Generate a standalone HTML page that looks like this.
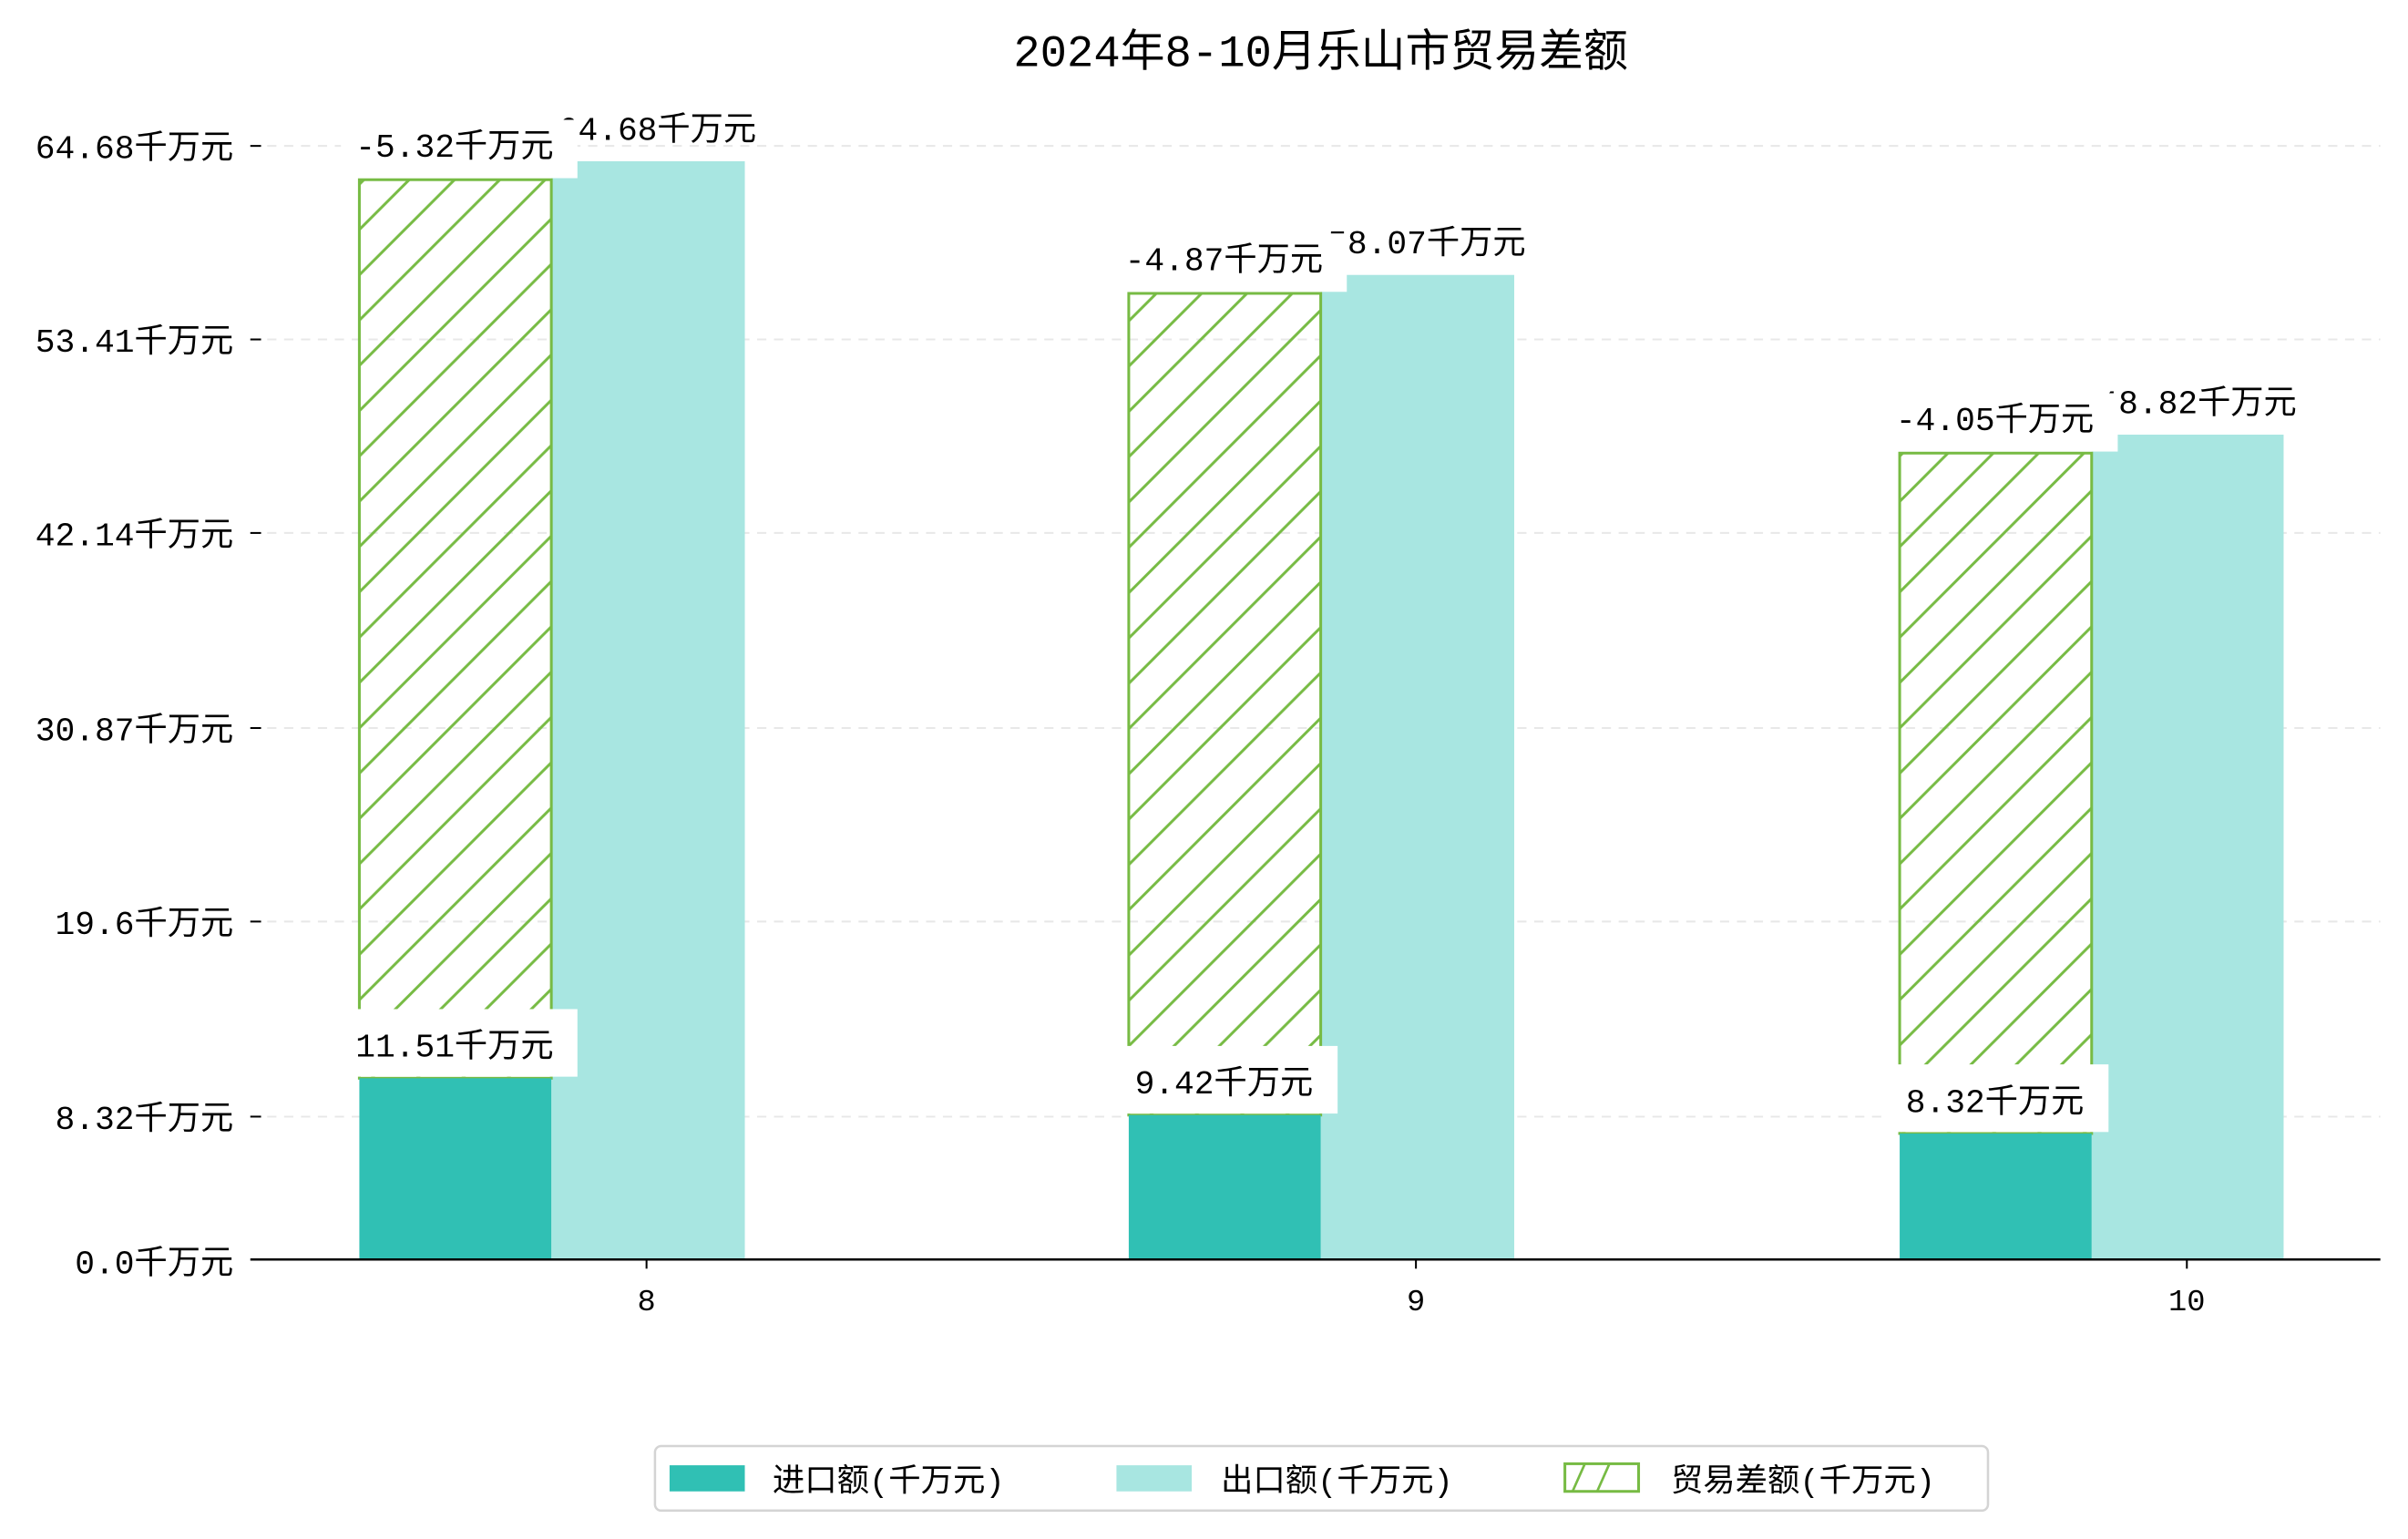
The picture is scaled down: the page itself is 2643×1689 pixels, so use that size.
<!DOCTYPE html>
<html><head><meta charset="utf-8"><style>
html,body{margin:0;padding:0;background:#fff;}
svg{display:block;}
text{font-family:"Liberation Mono","Noto Sans CJK SC",monospace;fill:#000;}
</style></head><body>
<svg width="2643" height="1689" viewBox="0 0 1568 1002" preserveAspectRatio="none" xmlns="http://www.w3.org/2000/svg">
<defs>
<pattern id="h" patternUnits="userSpaceOnUse" width="29.5" height="29.5">
<path d="M-2,2 L2,-2 M0,29.5 L29.5,0 M27.5,31.5 L31.5,27.5" stroke="#77bb44" stroke-width="1.8"/>
</pattern>
</defs>
<text x="860" y="43" font-size="29" text-anchor="middle">2024年8-10月乐山市贸易差额</text>
<g stroke="#e8e8e8" stroke-width="1.2" stroke-dasharray="6,5">
<line x1="163" y1="95" x2="1550" y2="95"/><line x1="163" y1="221" x2="1550" y2="221"/>
<line x1="163" y1="347" x2="1550" y2="347"/><line x1="163" y1="474" x2="1550" y2="474"/>
<line x1="163" y1="600" x2="1550" y2="600"/><line x1="163" y1="727" x2="1550" y2="727"/>
</g>
<g stroke="#000" stroke-width="1.2">
<line x1="163" y1="95" x2="170" y2="95"/><line x1="163" y1="221" x2="170" y2="221"/>
<line x1="163" y1="347" x2="170" y2="347"/><line x1="163" y1="474" x2="170" y2="474"/>
<line x1="163" y1="600" x2="170" y2="600"/><line x1="163" y1="727" x2="170" y2="727"/>
<line x1="421" y1="820" x2="421" y2="826"/><line x1="922" y1="820" x2="922" y2="826"/><line x1="1424" y1="820" x2="1424" y2="826"/>
</g>
<g font-size="21.5" text-anchor="end">
<text x="152" y="103">64.68千万元</text><text x="152" y="229">53.41千万元</text>
<text x="152" y="355">42.14千万元</text><text x="152" y="482">30.87千万元</text>
<text x="152" y="608">19.6千万元</text><text x="152" y="735">8.32千万元</text>
<text x="152" y="829">0.0千万元</text>
</g>
<g font-size="20" text-anchor="middle">
<text x="421" y="853">8</text><text x="922" y="853">9</text><text x="1424" y="853">10</text>
</g>
<g fill="#a8e6e1">
<rect x="359" y="105" width="126" height="715"/>
<rect x="860" y="179" width="126" height="641"/>
<rect x="1362" y="283" width="125" height="537"/>
</g>
<g fill="url(#h)" stroke="#77bb44" stroke-width="1.8">
<rect x="234" y="117" width="125" height="585"/>
<rect x="735" y="191" width="125" height="535"/>
<rect x="1237" y="295" width="125" height="443"/>
</g>
<g fill="#30c0b4">
<rect x="234" y="702" width="125" height="118"/>
<rect x="735" y="726" width="125" height="94"/>
<rect x="1237" y="738" width="125" height="82"/>
</g>
<line x1="163" y1="820" x2="1550" y2="820" stroke="#000" stroke-width="1.5"/>
<g font-size="21.5" text-anchor="middle">
<text x="428" y="91">64.68千万元</text>
<text x="929" y="165">58.07千万元</text>
<text x="1431" y="269">48.82千万元</text>
</g>
<g fill="#fff">
<rect x="222" y="78" width="154" height="38"/>
<rect x="723" y="152" width="154" height="38"/>
<rect x="1225" y="256" width="154" height="38"/>
<rect x="222" y="657" width="154" height="44"/>
<rect x="726" y="681" width="145" height="44"/>
<rect x="1228" y="693" width="145" height="44"/>
</g>
<g font-size="21.5" text-anchor="middle">
<text x="296" y="102">-5.32千万元</text>
<text x="797" y="176">-4.87千万元</text>
<text x="1299" y="280">-4.05千万元</text>
<text x="296" y="688">11.51千万元</text>
<text x="797" y="712">9.42千万元</text>
<text x="1299" y="724">8.32千万元</text>
</g>
<rect x="426.5" y="941.5" width="868" height="42" rx="4" fill="#fff" stroke="#d4d4d4" stroke-width="1.5"/>
<rect x="436" y="954" width="49" height="17" fill="#30c0b4"/>
<rect x="727" y="954" width="49" height="17" fill="#a8e6e1"/>
<rect x="1019" y="953" width="48" height="18" fill="#fff" stroke="#77bb44" stroke-width="1.8"/>
<path d="M1024,971 L1032,953 M1040,971 L1048,953" stroke="#77bb44" stroke-width="1.6"/>
<g font-size="21">
<text x="503" y="971">进口额(千万元)</text>
<text x="795" y="971">出口额(千万元)</text>
<text x="1088" y="971">贸易差额(千万元)</text>
</g>
</svg>
</body></html>
